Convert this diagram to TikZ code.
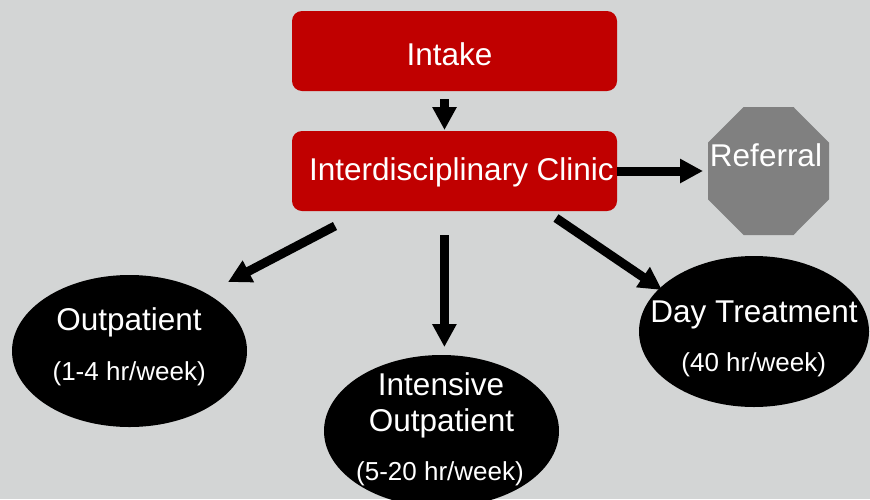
\documentclass[tikz,border=0pt]{standalone}
\usepackage{fontspec}
\setmainfont{Liberation Sans}
\usetikzlibrary{arrows.meta,shapes.geometric}
\definecolor{bg}{RGB}{211,213,213}
\definecolor{boxred}{RGB}{192,0,0}
\definecolor{refgray}{RGB}{128,128,128}
\begin{document}
\begin{tikzpicture}[x=1pt,y=-1pt,
  redbox/.style={fill=boxred, rounded corners=10pt, minimum width=325pt, minimum height=80pt, inner sep=0pt},
  blob/.style={ellipse, fill=black, inner sep=0pt},
  bigtxt/.style={text=white, font=\fontsize{31.5}{36}\selectfont, anchor=base, inner sep=0pt},
  smalltxt/.style={text=white, font=\fontsize{26}{30}\selectfont, anchor=base, inner sep=0pt},
  blockarrow/.style={line width=9pt, -{Triangle[length=23pt,width=23pt]}}]
\useasboundingbox (0,0) rectangle (870,499);
\fill[bg] (0,0) rectangle (870,499);

% boxes
\node[redbox] (intake) at (454.5,51) {};
\node[bigtxt] (intakeT) at (449.4,65) {Intake};
\node[redbox] (clinic) at (454.5,171) {};
\node[bigtxt] (clinicT) at (461.5,180) {Interdisciplinary Clinic};

% referral octagon
\fill[refgray] (743.5,107) -- (793.5,107) -- (829,142.7) -- (829,199.3)
  -- (793.5,235) -- (743.5,235) -- (708,199.3) -- (708,142.7) -- cycle;
\coordinate (refW) at (703,171);
\node[bigtxt] (referralT) at (766,166) {Referral};

% ellipses
\node[blob, minimum width=235pt, minimum height=152pt] (outp) at (129.5,351) {};
\node[bigtxt] (outpT1) at (129,330) {Outpatient};
\node[smalltxt] (outpT2) at (129.2,380) {(1-4 hr/week)};

\node[blob, minimum width=235pt, minimum height=152pt] (intens) at (441.5,431) {};
\node[bigtxt] (intensT1) at (441,395) {Intensive};
\node[bigtxt] (intensT2) at (441.5,431.7) {Outpatient};
\node[smalltxt] (intensT3) at (440,480) {(5-20 hr/week)};

\node[blob, minimum width=230pt, minimum height=151pt] (day) at (754,331.5) {};
\node[bigtxt] (dayT1) at (754,322.7) {Day Treatment};
\node[smalltxt] (dayT2) at (753.7,371.7) {(40 hr/week)};

% arrows
\coordinate (a1s) at (444.5,99);
\coordinate (a1e) at (444.5,130);
\draw[blockarrow] (a1s) -- (a1e);
\draw[blockarrow] (clinic.east) -- (refW);
\coordinate (l1) at (335,226);
\coordinate (l2) at (228,282);
\draw[blockarrow] (l1) -- (l2);
\coordinate (m1) at (444.4,235);
\coordinate (m2) at (444.4,347);
\draw[blockarrow] (m1) -- (m2);
\coordinate (r1) at (556,218);
\coordinate (r2) at (662,290);
\draw[blockarrow] (r1) -- (r2);
\end{tikzpicture}
\end{document}
